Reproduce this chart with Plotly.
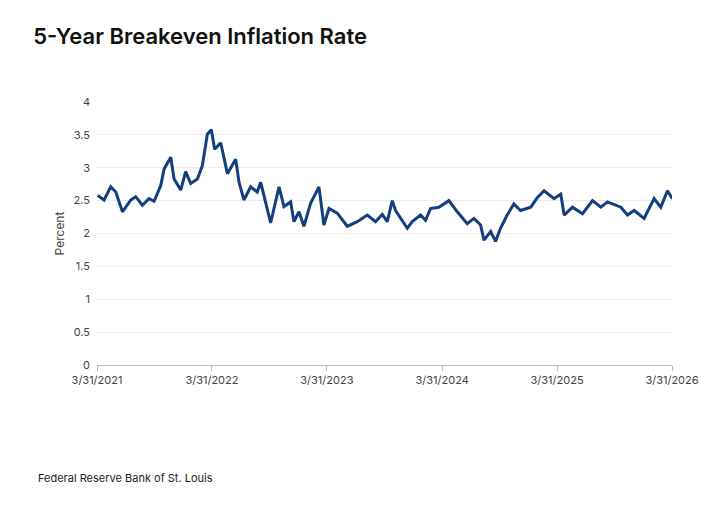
import plotly.graph_objects as go
import pandas as pd

years = [2021.25,2021.305,2021.363,2021.407,2021.465,2021.537,2021.58,2021.638,2021.696,2021.74,
2021.798,2021.827,2021.885,2021.914,2021.972,2022.015,2022.059,2022.117,2022.16,2022.204,
2022.238,2022.267,2022.32,2022.378,2022.45,2022.479,2022.522,2022.58,2022.638,2022.667,
2022.754,2022.827,2022.87,2022.928,2022.957,2023.001,2023.044,2023.102,2023.175,2023.218,
2023.262,2023.334,2023.421,2023.508,2023.595,2023.667,2023.725,2023.769,2023.812,2023.841,
2023.943,2023.986,2024.059,2024.102,2024.146,2024.218,2024.305,2024.378,2024.465,2024.523,
2024.581,2024.61,2024.668,2024.711,2024.754,2024.812,2024.87,2024.928,2025.015,2025.073,
2025.131,2025.218,2025.276,2025.305,2025.378,2025.465,2025.552,2025.624,2025.682,2025.798,
2025.856,2025.914,2026.001,2026.088,2026.146,2026.204,2026.247]
values = [2.58,2.51,2.71,2.63,2.33,2.51,2.56,2.43,2.53,2.49,
2.73,2.98,3.16,2.83,2.66,2.94,2.76,2.83,3.03,3.51,
3.58,3.28,3.38,2.91,3.13,2.78,2.51,2.71,2.63,2.78,
2.16,2.71,2.41,2.48,2.18,2.33,2.11,2.46,2.71,2.13,
2.38,2.31,2.11,2.18,2.28,2.18,2.29,2.18,2.50,2.35,
2.08,2.18,2.28,2.20,2.38,2.40,2.50,2.33,2.15,2.23,
2.13,1.90,2.03,1.88,2.08,2.28,2.45,2.35,2.40,2.55,
2.65,2.53,2.60,2.28,2.40,2.30,2.50,2.40,2.48,2.40,
2.28,2.35,2.23,2.53,2.40,2.65,2.53]
tick_dates = ["2021-03-31","2022-03-31","2023-03-31","2024-03-31","2025-03-31","2026-03-31"]
tick_labels = ["3/31/2021","3/31/2022","3/31/2023","3/31/2024","3/31/2025","3/31/2026"]

def to_date(y):
    yr = int(y)
    start = pd.Timestamp(yr, 1, 1)
    return start + pd.Timedelta(days=(y - yr) * 365.25)

dates = [to_date(y) for y in years]

fig = go.Figure(go.Scatter(x=dates, y=values, mode="lines",
                           line=dict(color="#123f7e", width=3)))
fig.update_layout(
    width=720, height=510, paper_bgcolor="white", plot_bgcolor="white",
    margin=dict(l=89, r=56, t=94, b=153),
    font=dict(family="Inter, Roboto, sans-serif", color="#333"),
    title=dict(text="5-Year Breakeven Inflation Rate", x=0.035, xanchor="left",
               y=0.945, yanchor="middle", font=dict(size=22, color="#111", weight=600)),
    showlegend=False,
)
fig.update_xaxes(range=[tick_dates[0], tick_dates[-1]], tickvals=tick_dates, ticktext=tick_labels,
                 showgrid=False, showline=True, linecolor="#bbb", ticks="outside",
                 tickcolor="#bbb", ticklen=5, tickfont=dict(size=11, color="#444"))
fig.update_yaxes(range=[0, 4], dtick=0.5, showgrid=True, gridcolor="#ececec",
                 zeroline=False, title=dict(text="Percent", font=dict(size=12, color="#444"), standoff=6),
                 tickfont=dict(size=11, color="#444"), ticks="", ticklabelstandoff=6)
fig.add_annotation(text="Federal Reserve Bank of St. Louis", xref="paper", yref="paper",
                   x=-0.106, xanchor="left", y=-0.43, yanchor="middle", showarrow=False,
                   font=dict(size=11, color="#222"))
fig.write_html("out.html")
